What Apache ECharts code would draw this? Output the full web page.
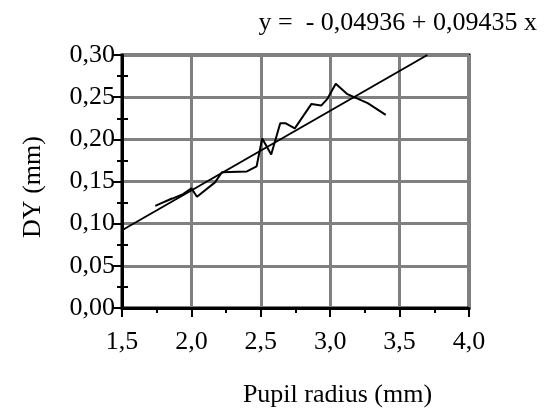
<!DOCTYPE html>
<html>
<head>
<meta charset="utf-8">
<script src="https://cdn.jsdelivr.net/npm/echarts@6/dist/echarts.min.js"></script>
<style>
  html, body { margin: 0; padding: 0; background: #fff; }
  #main { width: 544px; height: 412px; }
</style>
</head>
<body>
<div id="main"></div>
<script>
// 测量数据 (瞳孔半径 / DY)
var pupilRadius = [1.74, 1.86, 1.78, 1.94, 2.00, 2.04, 2.17, 2.22, 2.40, 2.47, 2.51, 2.575, 2.64, 2.68, 2.745, 2.865, 2.935, 2.98, 3.04, 3.12, 3.27, 3.40];
var dyValues = [0.121, 0.130, 0.124, 0.135, 0.142, 0.132, 0.149, 0.161, 0.162, 0.168, 0.201, 0.182, 0.219, 0.219, 0.213, 0.242, 0.240, 0.248, 0.266, 0.254, 0.243, 0.229];
// 回归直线端点
var fitX = [1.5, 3.70];
var fitY = [0.0922, 0.300];
// 刻度标签
var xTickLabels = ['1,5', '2,0', '2,5', '3,0', '3,5', '4,0'];
var yTickLabels = ['0,00', '0,05', '0,10', '0,15', '0,20', '0,25', '0,30'];
var equationText = 'y =  - 0,04936 + 0,09435 x';

var FONT = '"Liberation Serif", "Times New Roman", serif';

function pairs(xs, ys) {
    var out = [];
    for (var i = 0; i < xs.length; i++) {
        out.push([xs[i], ys[i]]);
    }
    return out;
}

var myChart = echarts.init(document.getElementById('main'));
var option = {
    animation: false,
    backgroundColor: '#fff',
    textStyle: {fontFamily: FONT, color: '#000'},
    title: {
        text: equationText,
        right: 2,
        top: 5,
        textStyle: {fontFamily: FONT, fontSize: 26, fontWeight: 'normal', color: '#000'}
    },
    grid: {
        left: 122,
        right: 75,
        top: 55,
        bottom: 104,
        outerBoundsMode: 'none',
        containLabel: false,
        show: true,
        borderColor: '#000',
        borderWidth: 3,
        backgroundColor: 'transparent'
    },
    xAxis: {
        type: 'value',
        min: 1.5,
        max: 4.0,
        interval: 0.5,
        name: 'Pupil radius (mm)',
        nameLocation: 'middle',
        nameGap: 74,
        nameTextStyle: {fontFamily: FONT, fontSize: 26, color: '#000', padding: [0, 0, 0, 84]},
        axisLine: {show: true, lineStyle: {color: '#000', width: 3}},
        axisTick: {show: true, length: 9, lineStyle: {color: '#000', width: 2}},
        minorTick: {show: true, splitNumber: 2, length: 5, lineStyle: {color: '#000', width: 2}},
        axisLabel: {
            fontFamily: FONT, fontSize: 26, color: '#000', margin: 21,
            formatter: function (v) {
                return xTickLabels[Math.round((v - 1.5) / 0.5)];
            }
        },
        splitLine: {show: true, lineStyle: {color: '#808080', width: 3}}
    },
    yAxis: [
        {
            type: 'value',
            min: 0,
            max: 0.3,
            interval: 0.05,
            name: 'DY (mm)',
            nameLocation: 'middle',
            nameGap: 76,
            nameRotate: 90,
            nameTextStyle: {fontFamily: FONT, fontSize: 26, color: '#000', padding: [0, 11, 0, 0]},
            axisLine: {show: true, lineStyle: {color: '#000', width: 3}},
            axisTick: {show: true, length: 9, lineStyle: {color: '#000', width: 2}},
            minorTick: {show: true, splitNumber: 2, length: 5, lineStyle: {color: '#000', width: 2}},
            axisLabel: {
                fontFamily: FONT, fontSize: 26, color: '#000', margin: 7,
                formatter: function (v) {
                    return yTickLabels[Math.round(v / 0.05)];
                }
            },
            splitLine: {show: true, lineStyle: {color: '#808080', width: 3}}
        },
        {
            // 内侧次刻度
            type: 'value',
            min: 0,
            max: 0.3,
            interval: 0.05,
            position: 'left',
            axisLine: {show: false},
            axisTick: {show: true, inside: true, length: 0, lineStyle: {width: 0}},
            minorTick: {show: true, splitNumber: 2, length: 6, lineStyle: {color: '#000', width: 2}},
            axisLabel: {show: false},
            splitLine: {show: false}
        }
    ],
    series: [
        {
            name: 'DY',
            type: 'line',
            data: pairs(pupilRadius, dyValues),
            showSymbol: false,
            symbol: 'none',
            lineStyle: {color: '#000', width: 2},
            z: 5
        },
        {
            name: 'fit',
            type: 'line',
            data: pairs(fitX, fitY),
            showSymbol: false,
            symbol: 'none',
            lineStyle: {color: '#000', width: 2},
            z: 5
        }
    ]
};
myChart.setOption(option);
</script>
</body>
</html>
